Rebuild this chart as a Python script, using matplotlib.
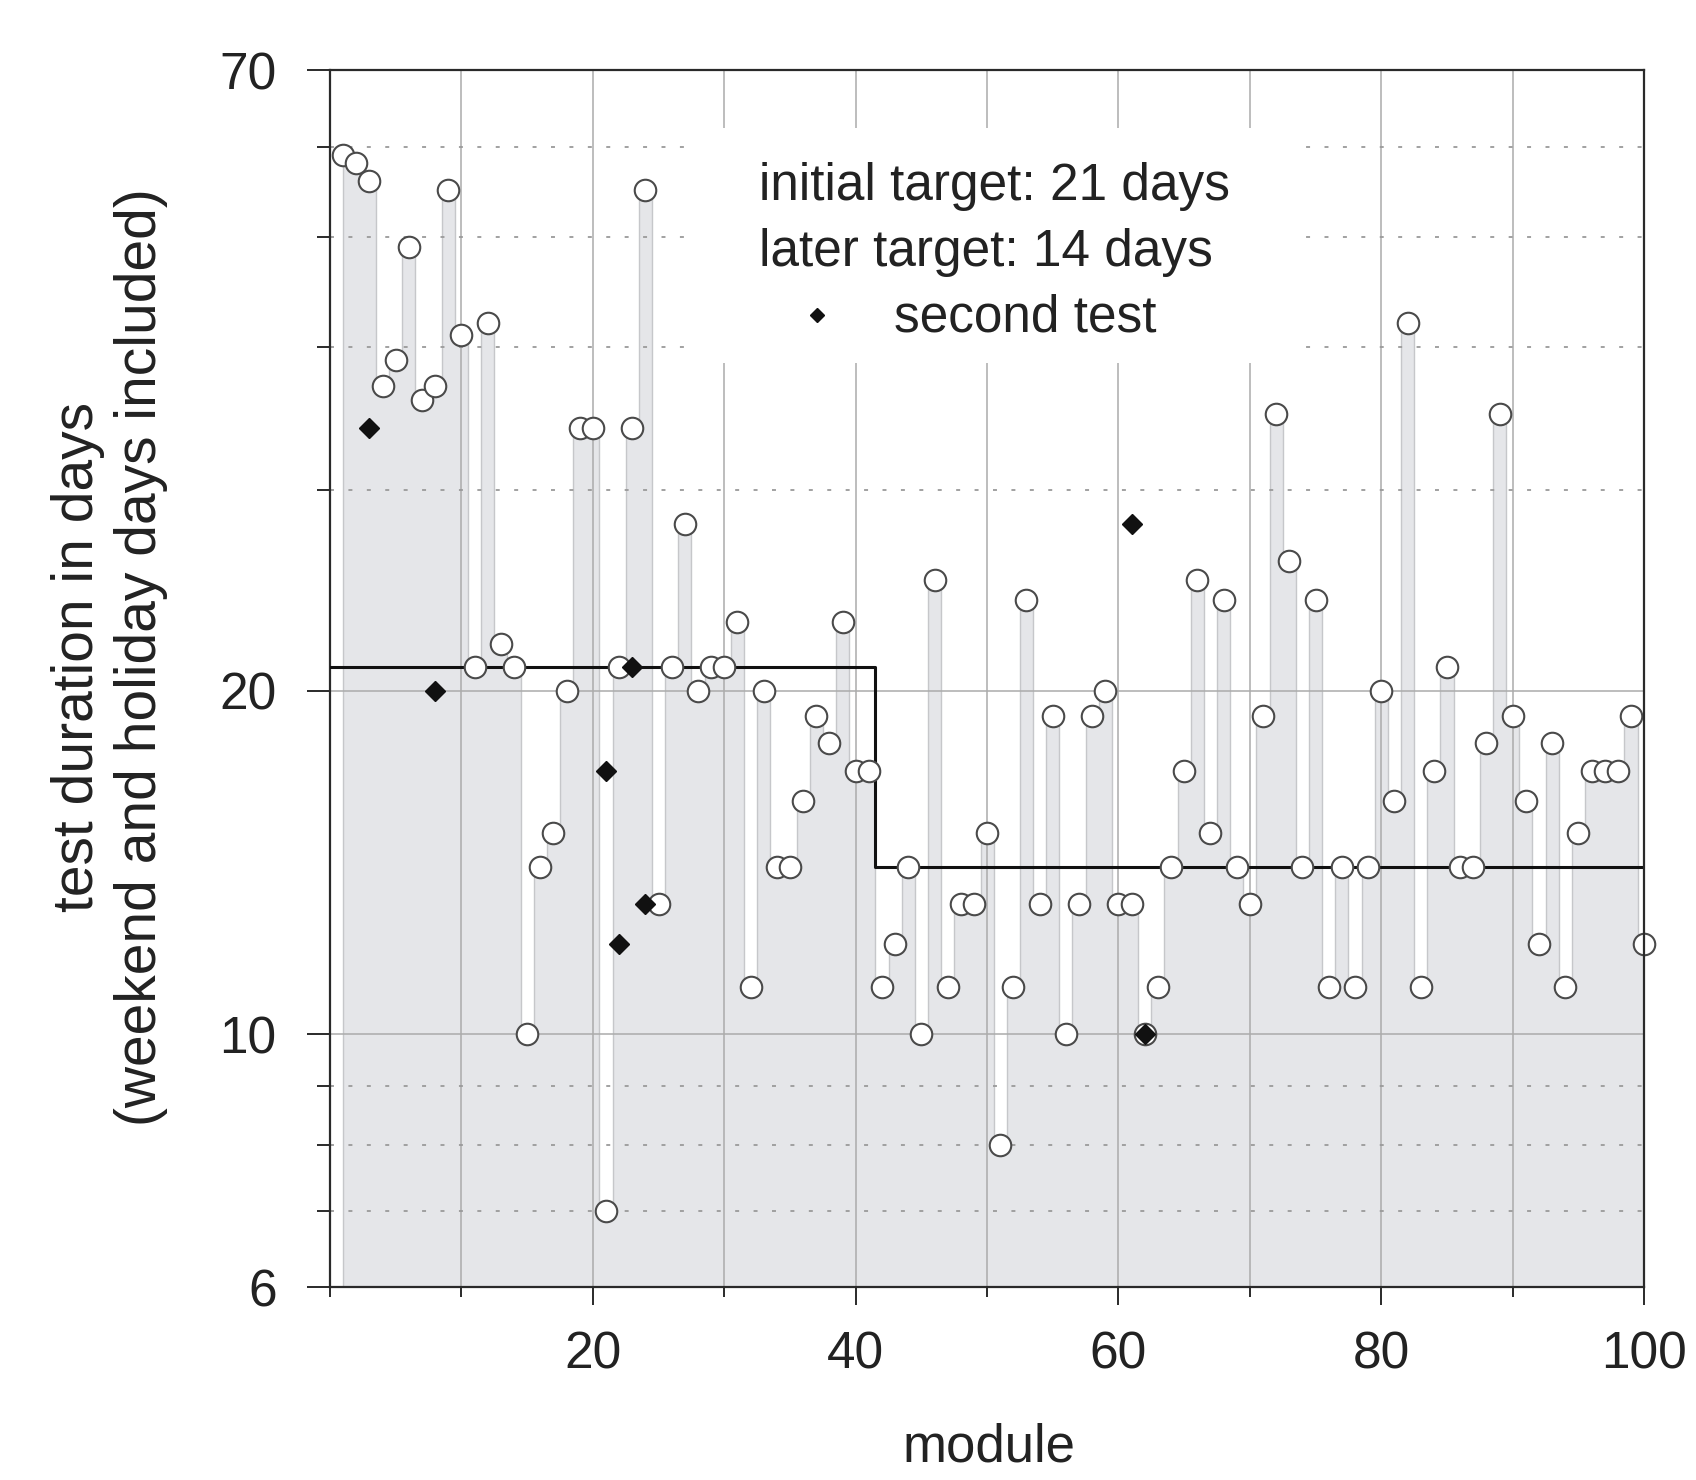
import matplotlib
matplotlib.use("Agg")
import matplotlib.pyplot as plt
from matplotlib.patches import Rectangle
from matplotlib.ticker import FixedLocator, FixedFormatter, NullFormatter
import numpy as np

plt.rcParams["font.family"] = ["Liberation Sans", "DejaVu Sans"]

# test duration (days) for modules 1..100
modules = np.arange(1, 101)
duration = [59, 58, 56, 37, 39, 49, 36, 37, 55, 41,
            21, 42, 22, 21, 10, 14, 15, 20, 34, 34,
            7, 21, 34, 55, 13, 21, 28, 20, 21, 21,
            23, 11, 20, 14, 14, 16, 19, 18, 23, 17,
            17, 11, 12, 14, 10, 25, 11, 13, 13, 15,
            8, 11, 24, 13, 19, 10, 13, 19, 20, 13,
            13, 10, 11, 14, 17, 25, 15, 24, 14, 13,
            19, 35, 26, 14, 24, 11, 14, 11, 14, 20,
            16, 42, 11, 17, 21, 14, 14, 18, 35, 19,
            16, 12, 18, 11, 15, 17, 17, 17, 19, 12]

# second test
second_modules = [3, 8, 21, 22, 23, 24, 61, 62]
second_duration = [34, 20, 17, 12, 21, 13, 28, 10]

# target: 21 days up to module 41, 14 days afterwards
target_x = [0, 41.5, 100]
target_days = [21, 14, 14]

y_major = [6, 10, 20, 70]
y_minor = [7, 8, 9, 30, 40, 50, 60]
x_major = [20, 40, 60, 80, 100]
x_minor = [0, 10, 30, 50, 70, 90]

FILL = "#e5e6e9"
FILL_EDGE = "#c6c7ca"
GRID = "#ababab"
DARK = "#2a2a2a"

fig = plt.figure(figsize=(16.96, 14.8), dpi=100)
ax = fig.add_axes([0.1946, 0.1303, 0.7748, 0.8223])
ax.set_yscale("log")
ax.set_xlim(0, 100)
ax.set_ylim(6, 70)

# gray area up to each module's duration
ax.fill_between(modules, duration, 6, step="mid", facecolor=FILL,
                edgecolor=FILL_EDGE, linewidth=1.0, zorder=1)

# grid
for x in range(10, 100, 10):
    ax.axvline(x, color=GRID, lw=1.1, zorder=2)
for y in [10, 20]:
    ax.axhline(y, color=GRID, lw=1.1, zorder=2)
for y in y_minor:
    ax.axhline(y, color="#9a9a9a", lw=1.3, ls=(0, (2.2, 8)), zorder=2)

# target line
ax.plot(target_x, target_days, drawstyle="steps-post", color="#111111",
        lw=2.2, zorder=3)

# legend box
ax.add_patch(Rectangle((0.2755, 0.7592), 0.4585, 0.1931, transform=ax.transAxes,
                       facecolor="white", edgecolor="none", zorder=4))
ax.text(0.3265, 0.8932, "initial target: 21 days", transform=ax.transAxes,
        fontsize=37, va="baseline", ha="left", color="#222222", zorder=5)
ax.text(0.3265, 0.8392, "later target: 14 days", transform=ax.transAxes,
        fontsize=37, va="baseline", ha="left", color="#222222", zorder=5)
ax.plot([0.3709], [0.7987], marker="D", ms=7, color="#111111",
        transform=ax.transAxes, zorder=5, clip_on=False)
ax.text(0.429, 0.785, "second test", transform=ax.transAxes,
        fontsize=37, va="baseline", ha="left", color="#222222", zorder=5)

# data points
ax.plot(modules, duration, ls="none", marker="o", ms=15.5, mfc="white",
        mec="#4a4a4a", mew=1.5, zorder=6, clip_on=False)
ax.plot(second_modules, second_duration, ls="none", marker="D", ms=10,
        color="#111111", zorder=7)

# axes styling
for side in ["left", "right", "top", "bottom"]:
    ax.spines[side].set_color(DARK)
    ax.spines[side].set_linewidth(1.6)
ax.spines["right"].set_zorder(8)

ax.yaxis.set_major_locator(FixedLocator(y_major))
ax.yaxis.set_major_formatter(FixedFormatter([str(v) for v in y_major]))
ax.yaxis.set_minor_locator(FixedLocator(y_minor))
ax.yaxis.set_minor_formatter(NullFormatter())
ax.xaxis.set_major_locator(FixedLocator(x_major))
ax.xaxis.set_major_formatter(FixedFormatter([str(v) for v in x_major]))
ax.xaxis.set_minor_locator(FixedLocator(x_minor))
ax.xaxis.set_minor_formatter(NullFormatter())

ax.tick_params(axis="y", which="major", direction="out", length=16.5, width=1.4,
               colors=DARK, labelsize=37, pad=22)
ax.tick_params(axis="y", which="minor", direction="out", length=9.5, width=1.4,
               colors=DARK)
ax.tick_params(axis="x", which="major", direction="out", length=13, width=1.4,
               colors=DARK, labelsize=37, pad=18)
ax.tick_params(axis="x", which="minor", direction="out", length=7.5, width=1.4,
               colors=DARK)
for lab in ax.get_xticklabels() + ax.get_yticklabels():
    lab.set_color("#222222")

fig.text(0.583, 0.022, "module", fontsize=38, ha="center", va="center",
         color="#222222")
fig.text(0.0645, 0.556, "test duration in days\n(weekend and holiday days included)",
         fontsize=41, rotation=90, ha="center", va="center", multialignment="center",
         linespacing=1.2, color="#222222")

fig.savefig("out.png", dpi=100, facecolor="white")
